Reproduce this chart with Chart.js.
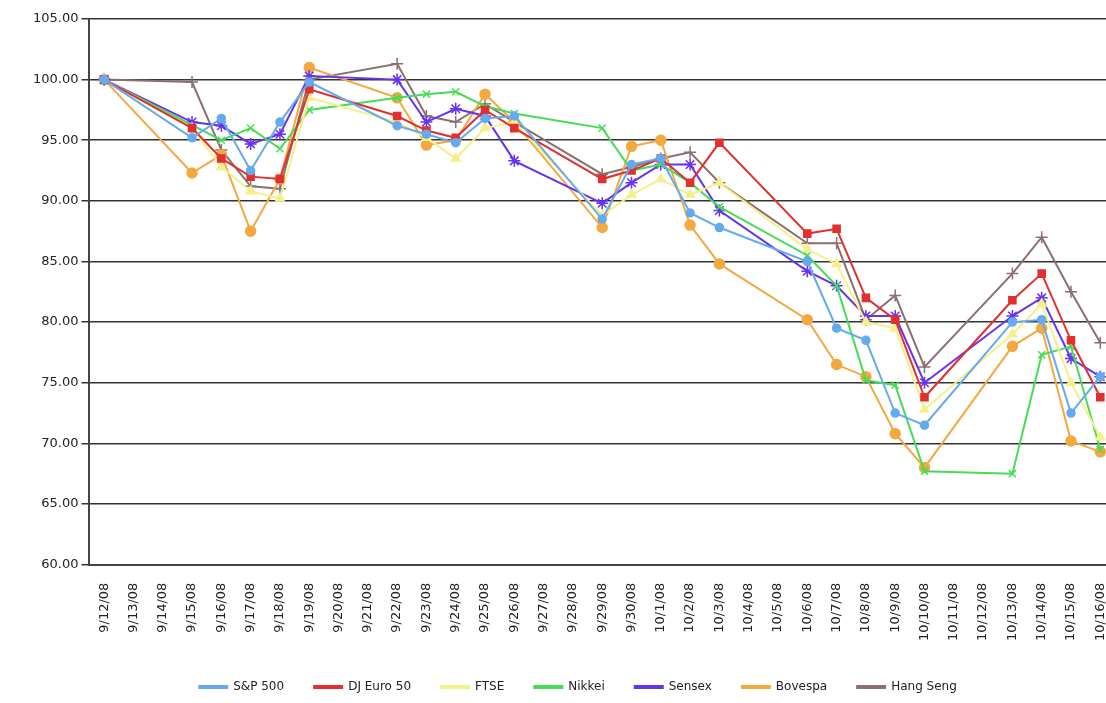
<!DOCTYPE html>
<html><head><meta charset="utf-8">
<script src="https://cdn.jsdelivr.net/npm/chart.js@4/dist/chart.umd.min.js"></script>
<style>html,body{margin:0;padding:0;background:#fff;overflow:hidden;width:1106px;height:703px}#w{position:absolute;left:0;top:0;width:1126px;height:703px}</style>
</head><body><div id="w"><canvas id="c"></canvas></div>
<script>
const categories=["9/12/08","9/13/08","9/14/08","9/15/08","9/16/08","9/17/08","9/18/08","9/19/08","9/20/08","9/21/08","9/22/08","9/23/08","9/24/08","9/25/08","9/26/08","9/27/08","9/28/08","9/29/08","9/30/08","10/1/08","10/2/08","10/3/08","10/4/08","10/5/08","10/6/08","10/7/08","10/8/08","10/9/08","10/10/08","10/11/08","10/12/08","10/13/08","10/14/08","10/15/08","10/16/08"];
const N=null;
const sp500=[100,95.2,96.8,92.5,96.5,99.8,96.2,95.5,94.8,96.8,97,88.5,93,93.5,89,87.8,85,79.5,78.5,72.5,71.5,80,80.2,72.5,75.5];
const djEuro50=[100,96,93.5,92,91.8,99.2,97,95.8,95.2,97.5,96,91.8,92.5,93.5,91.5,94.8,87.3,87.7,82,80.2,73.8,81.8,84,78.5,73.8];
const ftse=[100,96,92.8,90.8,90.2,98.5,96.5,95.2,93.5,96,96.5,88.8,90.5,91.8,90.5,91.5,86,84.8,80,79.5,72.8,79,81.5,75,70.5];
const nikkei=[100,N,95,96,94.3,97.5,98.5,98.8,99,97.8,97.2,96,92.5,93,91.5,89.5,85.5,83,75.2,74.8,67.7,67.5,77.3,78,69.5];
const sensex=[100,96.5,96.2,94.7,95.5,100.3,100,96.5,97.6,97,93.3,89.8,91.5,93,93,89.2,84.2,83,80.5,80.5,75,80.5,82,77,75.5];
const bovespa=[100,92.3,93.8,87.5,91.8,101,98.5,94.6,95,98.8,96.5,87.8,94.5,95,88,84.8,80.2,76.5,75.5,70.8,68,78,79.5,70.2,69.3];
const hangSeng=[100,99.8,94.2,91.2,91,100,101.3,97,96.5,98,96.5,92.2,92.8,93.5,94,91.5,86.5,86.5,80.2,82.2,76.3,84,87,82.5,78.3];
const tradingDays=["9/12/08","9/15/08","9/16/08","9/17/08","9/18/08","9/19/08","9/22/08","9/23/08","9/24/08","9/25/08","9/26/08","9/29/08","9/30/08","10/1/08","10/2/08","10/3/08","10/6/08","10/7/08","10/8/08","10/9/08","10/10/08","10/13/08","10/14/08","10/15/08","10/16/08"];
function expand(v){return categories.map(c=>{const i=tradingDays.indexOf(c);return i<0?null:v[i];});}
function ds(label,data,color,ps,r){return {label,data:expand(data),borderColor:color,backgroundColor:color,pointStyle:ps,pointRadius:r,pointBorderColor:color,pointBackgroundColor:color,borderWidth:2,pointBorderWidth:1.5,spanGaps:true,tension:0};}
new Chart(document.getElementById('c'),{type:'line',
data:{labels:categories,datasets:[
ds('S&P 500',sp500,'#66aaee','circle',4),
ds('DJ Euro 50',djEuro50,'#e03030','rect',5),
ds('FTSE',ftse,'#f4f08a','triangle',5),
ds('Nikkei',nikkei,'#44dd55','crossRot',5),
ds('Sensex',sensex,'#6633ee','star',6),
ds('Bovespa',bovespa,'#f4a840','circle',5),
ds('Hang Seng',hangSeng,'#8a7070','cross',6)]},
options:{responsive:true,maintainAspectRatio:false,animation:false,
layout:{padding:{left:30,top:19,right:0,bottom:0}},
plugins:{legend:{position:'bottom',labels:{usePointStyle:false,boxWidth:28,boxHeight:2,font:{family:'DejaVu Sans',size:12},color:'#222',padding:30}},tooltip:{enabled:false}},
scales:{
x:{offset:true,grid:{display:false},border:{color:'#444',width:2},ticks:{autoSkip:false,padding:10,maxRotation:90,minRotation:90,font:{family:'DejaVu Sans',size:13},color:'#222'}},
y:{min:60,max:105,ticks:{stepSize:5,callback:v=>v.toFixed(2),font:{family:'DejaVu Sans',size:13},color:'#222'},grid:{color:'#333',lineWidth:1.5,drawTicks:true},border:{color:'#444',width:2}}}}});
</script></body></html>
